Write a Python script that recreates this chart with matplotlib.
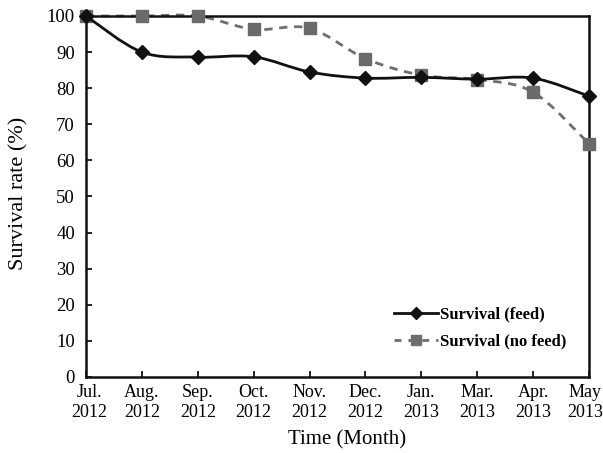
import numpy as np
import matplotlib
matplotlib.use("Agg")
import matplotlib.pyplot as plt
import matplotlib.transforms as mtransforms
from matplotlib.path import Path
from matplotlib.patches import PathPatch
from matplotlib.lines import Line2D

plt.rcParams['font.family'] = ['Liberation Serif', 'DejaVu Serif']

months = ["Jul.\n2012", "Aug.\n2012", "Sep.\n2012", "Oct.\n2012", "Nov.\n2012",
          "Dec.\n2012", "Jan.\n2013", "Mar.\n2013", "Apr.\n2013", "May\n2013"]
feed = [100, 90.0, 88.6, 88.7, 84.5, 82.8, 83.0, 82.5, 82.8, 77.8]
no_feed = [100, 100, 100, 96.3, 96.6, 88.2, 83.6, 82.4, 78.9, 64.6]


def smooth_path(x, y):
    # cubic bezier through each point, control points from neighbours
    x = np.asarray(x, float)
    y = np.asarray(y, float)
    pts = np.column_stack([x, y])
    n = len(pts)
    verts = [pts[0]]
    codes = [Path.MOVETO]
    for i in range(n - 1):
        p0 = pts[max(i - 1, 0)]
        p1 = pts[i]
        p2 = pts[i + 1]
        p3 = pts[min(i + 2, n - 1)]
        c1 = p1 + (p2 - p0) / 6.0
        c2 = p2 - (p3 - p1) / 6.0
        verts += [c1, c2, p2]
        codes += [Path.CURVE4] * 3
    return Path(verts, codes)


def shift_label(label, dx_px):
    label.set_transform(label.get_transform() +
                        mtransforms.ScaledTranslation(dx_px / 100, 0, fig.dpi_scale_trans))


fig = plt.figure(figsize=(6.03, 4.53), dpi=100)
ax = fig.add_axes([0.1426, 0.1678, 0.8342, 0.7969])

x = np.arange(len(months))

ax.add_patch(PathPatch(smooth_path(x, no_feed), fill=False, edgecolor='#6e6e6e',
                       lw=2.0, linestyle=(0, (3, 2.4)), zorder=2, clip_on=False))
ax.plot(x, no_feed, ls='none', marker='s', ms=9, color='#6a6a6a', zorder=3,
        clip_on=False)

ax.add_patch(PathPatch(smooth_path(x, feed), fill=False, edgecolor='#111111',
                       lw=2.0, zorder=4, clip_on=False))
ax.plot(x, feed, ls='none', marker='D', ms=7, color='#111111', zorder=5,
        clip_on=False)

ax.set_xlim(0, len(months) - 1)
ax.set_ylim(0, 100)
ax.set_xticks(x)
ax.set_xticklabels(months, fontsize=13, linespacing=1.2)
ax.set_yticks(np.arange(0, 101, 10))
ax.tick_params(axis='both', direction='in', length=4, width=1.2)
ax.tick_params(axis='x', pad=5)
ax.tick_params(axis='y', labelsize=13.5, pad=8)
for s in ax.spines.values():
    s.set_linewidth(1.8)
    s.set_color('#111111')

# keep the end month labels clear of the "0" label and the figure edge
xlabels = ax.get_xticklabels()
shift_label(xlabels[0], 3)
shift_label(xlabels[-1], -4)

ax.set_xlabel("Time (Month)", fontsize=15)
ax.xaxis.set_label_coords(0.519, -0.147)
ax.set_ylabel("Survival rate (%)", fontsize=16)
ax.yaxis.set_label_coords(-0.114, 0.51)

handles = [
    Line2D([], [], color='#111111', lw=2.0, marker='D', ms=6),
    Line2D([], [], color='#6e6e6e', lw=2.0, ls=(0, (2.5, 2.5)), marker='s', ms=7),
]
ax.legend(handles, ["Survival (feed)", "Survival (no feed)"], loc='lower right',
          bbox_to_anchor=(0.985, 0.035), frameon=False, handlelength=2.6,
          handletextpad=0.15, labelspacing=0.65,
          prop={'family': 'Liberation Serif', 'weight': 'bold', 'size': 12})

fig.savefig("out.png", dpi=100)
